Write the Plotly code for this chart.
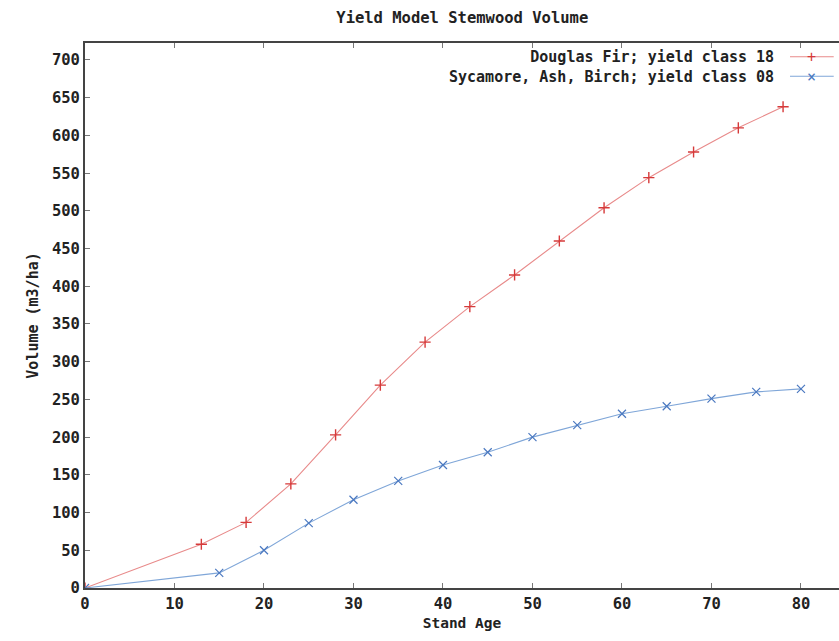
import plotly.graph_objects as go

# Data
df_age = [0, 13, 18, 23, 28, 33, 38, 43, 48, 53, 58, 63, 68, 73, 78]
df_vol = [0, 58, 87, 138, 203, 269, 326, 373, 415, 460, 504, 544, 578, 610, 638]
sab_age = [0, 15, 20, 25, 30, 35, 40, 45, 50, 55, 60, 65, 70, 75, 80]
sab_vol = [0, 20, 50, 86, 117, 142, 163, 180, 200, 216, 231, 241, 251, 260, 264]
names = ["Douglas Fir; yield class 18", "Sycamore, Ash, Birch; yield class 08"]
x_ticks = [0, 10, 20, 30, 40, 50, 60, 70, 80]
y_ticks = list(range(0, 701, 50))

FONT = "DejaVu Sans Mono"
TXT = "#222222"
RED_L = "#e88a8a"
RED_M = "#d63a3a"
BLUE_L = "#7fa6d8"
BLUE_M = "#4a78c0"

fig = go.Figure()
fig.add_trace(go.Scatter(
    x=df_age, y=df_vol, mode="lines+markers", name=names[0],
    line=dict(color=RED_L, width=1.1),
    marker=dict(symbol="cross-thin", size=8, line=dict(color=RED_M, width=1.4)),
))
fig.add_trace(go.Scatter(
    x=sab_age, y=sab_vol, mode="lines+markers", name=names[1],
    line=dict(color=BLUE_L, width=1.1),
    marker=dict(symbol="x-thin", size=8, line=dict(color=BLUE_M, width=1.2)),
))

# legend drawn manually (text right-aligned, key on the right, like gnuplot)
LEG_SIZE = 15
plot_h = 641 - 43 - 53
center_px = 66.5
half = LEG_SIZE * 1.3 / 2
yc = 1 - (center_px - 43) / plot_h
rows = [1 - (center_px - half - 43) / plot_h, 1 - (center_px + half - 43) / plot_h]
key_x0, key_x1 = 0.935, 0.993
fig.add_annotation(xref="paper", yref="paper", x=0.917, y=yc,
                   text="<br>".join("<b>%s</b>" % n for n in names),
                   showarrow=False, xanchor="right", yanchor="middle", align="right",
                   font=dict(family=FONT, size=LEG_SIZE, color=TXT))
for yy, lc in zip(rows, [RED_L, BLUE_L]):
    fig.add_shape(type="line", xref="paper", yref="paper", x0=key_x0, x1=key_x1, y0=yy, y1=yy,
                  line=dict(color=lc, width=1.2))
fig.add_annotation(xref="paper", yref="paper", x=(key_x0 + key_x1) / 2, y=yc,
                   text="<span style='color:%s'>+</span><br><span style='color:%s'>×</span>" % (RED_M, BLUE_M),
                   showarrow=False, xanchor="center", yanchor="middle", align="center",
                   font=dict(family=FONT, size=LEG_SIZE, color=TXT))

fig.update_layout(
    width=839, height=641,
    margin=dict(l=85, r=0, t=43, b=53),
    paper_bgcolor="white", plot_bgcolor="white",
    showlegend=False,
    title=dict(text="<b>Yield Model Stemwood Volume</b>", x=0.551, xanchor="center", y=0.972, yanchor="middle",
               font=dict(family=FONT, size=15.5, color=TXT)),
    font=dict(family=FONT, size=15.5, color=TXT),
)
fig.update_xaxes(
    range=[0, 84.25], tickvals=x_ticks, ticktext=["<b>%d</b>" % v for v in x_ticks],
    showgrid=False, zeroline=False, showline=True, linecolor="#444444", linewidth=2,
    mirror="ticks", ticks="inside", ticklen=5, tickcolor="#777777",
    title=dict(text="<b>Stand Age</b>", font=dict(family=FONT, size=14.5, color=TXT), standoff=6),
    tickfont=dict(family=FONT, size=15.5, color=TXT),
)
fig.update_yaxes(
    range=[0, 722.5], tickvals=y_ticks, ticktext=["<b>%d</b>" % v for v in y_ticks],
    showgrid=False, zeroline=False, showline=True, linecolor="#444444", linewidth=2,
    ticks="inside", ticklen=5, tickcolor="#777777",
    title=dict(text="<b>Volume (m3/ha)</b>", font=dict(family=FONT, size=15, color=TXT), standoff=10),
    tickfont=dict(family=FONT, size=15.5, color=TXT),
)

fig.write_html("out.html")
